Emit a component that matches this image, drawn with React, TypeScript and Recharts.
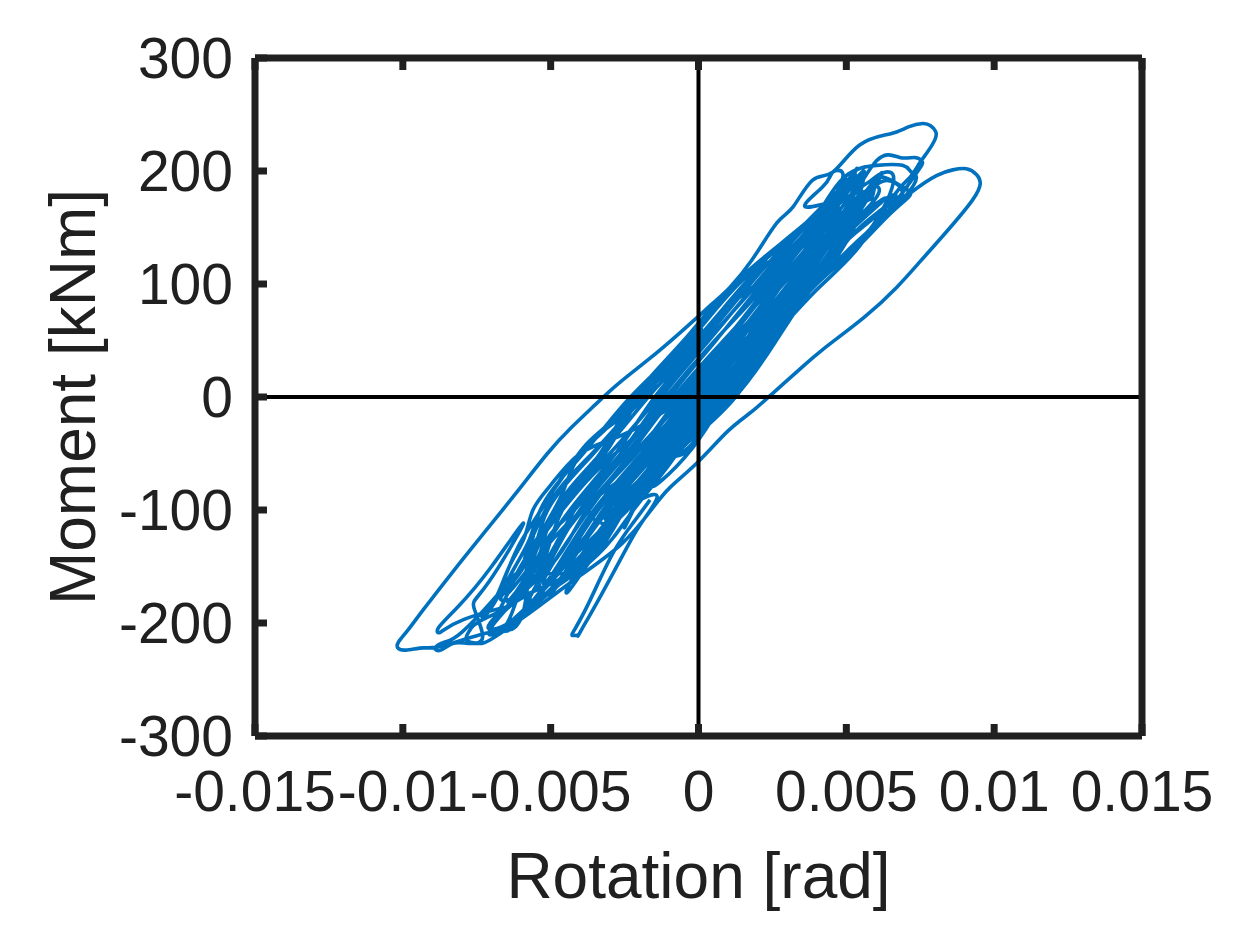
import { LineChart, Line, XAxis, YAxis, ReferenceLine } from 'recharts';

type Pt = [number, number]; // rotation in mrad, moment in kNm

const xTicks = [-0.015, -0.01, -0.005, 0, 0.005, 0.01, 0.015];
const yTicks = [-300, -200, -100, 0, 100, 200, 300];

const hookBranch: Pt[] = [
  [-1.64, -91], [-2.2, -111], [-2.89, -138], [-3.67, -180], [-4.15, -204], [-4.27, -211], [-4.1, -211], [-4.0, -208],
  [-3.33, -177], [-2.52, -138], [-1.97, -113], [-1.4, -89], [-1.9, -90], [-2.65, -106], [-3.2, -128],
  [-3.8, -150], [-4.4, -172], [-4.42, -168], [-3.9, -150], [-3.0, -118],
];

const coreA: Pt[] = [
  [-3.7, -100], [-2.1, -50], [-0.55, 0], [1.0, 50], [2.5, 100], [4.05, 150], [5.1, 178],
  [4.63, 150], [3.25, 100], [1.85, 50], [0.38, 0], [-1.4, -50], [-3.05, -100], [-4.4, -150], [-5.1, -175],
  [-5.4, -150], [-4.35, -100], [-2.8, -50], [-1.48, 0], [0.15, 50], [1.75, 100], [3.48, 150], [5.0, 190],
  [5.3, 192], [4.91, 150], [3.64, 100], [2.29, 50], [0.86, 0], [-1.04, -50], [-2.71, -100], [-4.14, -150], [-6.23, -200],
  [-6.0, -196], [-5.66, -150], [-4.69, -100], [-3.16, -50], [-1.96, 0], [-0.29, 50], [1.36, 100], [3.5, 150], [4.9, 188],
  [4.95, 186], [4.33, 150], [2.86, 100], [1.41, 50], [-0.11, 0], [-1.76, -50], [-3.39, -100], [-4.66, -150], [-5.9, -190],
];

const coreB: Pt[] = [
  [-5.14, -150], [-4.01, -100], [-2.44, -50], [-0.99, 0], [0.59, 50], [2.14, 100], [3.77, 150], [5.21, 190],
  [5.6, 196], [5.04, 150], [3.79, 100], [2.46, 50], [1.04, 0], [-0.9, -50], [-2.58, -100], [-4.04, -150], [-6.31, -200],
  [-6.39, -196], [-5.78, -150], [-4.84, -100], [-3.33, -50], [-2.18, 0], [-0.5, 50], [1.18, 100], [3.45, 150], [4.85, 186],
  [4.9, 190], [4.46, 150], [3.04, 100], [1.61, 50], [0.12, 0], [-1.6, -50], [-3.23, -100], [-4.54, -150], [-6.6, -204],
  [-6.9, -200], [-5.28, -150], [-4.19, -100], [-2.63, -50], [-1.25, 0], [0.35, 50], [1.93, 100], [3.61, 150], [5.1, 186],
  [5.4, 188], [5.19, 150], [3.94, 100], [2.56, 50], [1.15, 0], [-0.81, -50], [-2.5, -100], [-3.98, -150],
];

const coreC: Pt[] = [
  [-4.22, -150], [-2.82, -100], [-1.23, -50], [0.6, 0], [2.05, 50], [3.43, 100], [4.76, 150], [5.9, 190],
  [6.14, 194], [5.11, 150], [3.88, 100], [2.63, 50], [1.23, 0], [-0.76, -50], [-2.45, -100], [-3.94, -150],
  [-4.28, -156], [-5.72, -150], [-4.77, -100], [-3.25, -50], [-2.07, 0], [-0.39, 50], [1.27, 100], [3.5, 150], [5.0, 190],
  [5.3, 199], [4.19, 150], [2.68, 100], [1.2, 50], [-0.33, 0], [-1.93, -50], [-3.54, -100], [-4.78, -150], [-6.2, -196],
  [-7.05, -200], [-5.02, -150], [-3.78, -100], [-2.1, -50], [-0.66, 0], [0.9, 50], [2.41, 100], [3.98, 150], [5.35, 190],
  [5.5, 192], [4.33, 150], [2.77, 100], [1.31, 50], [-0.22, 0], [-1.85, -50], [-3.47, -100], [-4.72, -150],
];

const coreD: Pt[] = [
  [-3.15, -100], [-1.51, -50], [0.23, 0], [1.71, 50], [3.13, 100], [4.53, 150], [5.5, 180],
  [5.54, 176], [4.26, 150], [2.77, 100], [1.31, 50], [-0.22, 0], [-1.93, -50], [-3.01, -100],
  [-2.89, -100], [-1.15, -50], [0.71, 0], [2.16, 50], [3.52, 100], [4.83, 150], [5.8, 184],
  [6.0, 176], [4.5, 138], [3.08, 100], [2.16, 50], [0.86, 0], [-1.04, -50], [-2.71, -100], [-3.98, -150], [-5.8, -186],
  [-5.6, -186], [-3.9, -138], [-2.5, -100], [-0.81, -50], [1.15, 0], [2.56, 50], [3.88, 100], [5.11, 150], [6.14, 190],
];

const coreE: Pt[] = [
  [-6.6, -180], [-5.9, -150], [-5.35, -100], [-3.9, -50], [-2.3, 0], [-0.4, 50], [1.2, 100], [2.2, 118],
  [2.3, 118], [1.55, 100], [-0.1, 50], [-1.9, 0], [-3.55, -50], [-5.1, -100], [-5.7, -150], [-6.4, -180],
  [-6.2, -175], [-5.5, -150], [-4.85, -100], [-3.3, -50], [-1.7, 0], [0.0, 50], [1.7, 100], [3.6, 150], [4.9, 178],
  [3.8, 150], [2.0, 100], [0.3, 50], [-1.35, 0], [-3.0, -50], [-4.6, -100], [-5.3, -150], [-6.0, -172],
  [-5.85, -165], [-5.1, -125], [-4.2, -100], [-2.6, -50], [-1.1, 0], [0.55, 50], [2.3, 100], [3.8, 150], [4.8, 176],
  [4.2, 150], [2.6, 100], [0.85, 50], [-0.8, 0], [-2.45, -50], [-4.0, -100], [-4.9, -140], [-5.5, -168],
  [-4.5, -120], [-2.9, -70], [-1.3, -15], [0.5, 40], [2.5, 100], [4.0, 160],
];

const coreF: Pt[] = [
  [-5.2, -160], [-3.7, -100], [-2.2, -50], [-0.45, 0], [1.1, 50], [2.85, 100], [4.35, 150], [5.8, 180],
  [5.0, 160], [3.35, 100], [1.6, 50], [0.0, 0], [-1.6, -50], [-3.1, -100], [-4.5, -145],
  [-4.2, -140], [-2.7, -100], [-1.3, -50], [0.5, 0], [1.9, 50], [3.65, 100], [4.9, 140], [6.1, 172],
  [6.5, 172], [5.3, 145], [4.15, 115], [3.3, 85], [2.4, 50], [1.25, 0], [-0.35, -40], [-1.0, -60], [-2.2, -100], [-2.9, -125], [-4.0, -153], [-5.5, -180],
  [-5.0, -170], [-3.4, -125], [-2.4, -100], [-1.1, -60], [0.2, -25], [1.3, 5], [2.3, 50], [3.3, 85], [4.4, 115], [5.25, 145], [6.8, 176],
];

const coreG: Pt[] = [
  [6.9, 178], [5.9, 150], [4.6, 118], [3.5, 88], [2.6, 60], [1.45, 15], [0.3, -25], [-0.6, -50],
  [-1.0, -45], [0.9, 10], [2.2, 60], [3.0, 85], [4.1, 115], [5.05, 145], [6.3, 176],
  [4.0, 130], [2.2, 80], [0.7, 40], [-0.9, -5], [-2.6, -45], [-3.8, -75], [-4.9, -110], [-5.6, -135],
  [-5.85, -140], [-4.95, -90], [-3.6, -50], [-2.0, -5], [-0.1, 40], [1.3, 80], [2.7, 120], [4.4, 160],
  [3.2, 125], [1.0, 80], [-0.5, 35], [-2.2, -10], [-3.85, -45], [-4.6, -85], [-5.45, -125], [-6.5, -175],
];

// right-hand edge of the dense band
const coreH: Pt[] = [
  [-4.9, -125], [-3.0, -80], [-1.4, -55], [-0.5, -50], [0.25, -25], [1.25, 0], [1.85, 25], [2.45, 50], [3.05, 75], [3.85, 100], [4.65, 125], [5.45, 150], [6.6, 175],
  [6.3, 175], [5.25, 150], [4.4, 125], [3.6, 100], [2.85, 75], [2.2, 50], [1.6, 25], [1.0, 0], [0.05, -25], [-0.8, -50], [-1.5, -75],
  [-1.3, -75], [-0.2, -45], [0.8, -5], [1.45, 25], [2.0, 50], [2.65, 75], [3.35, 100], [4.15, 125], [5.0, 150], [5.9, 172],
  [5.6, 172], [4.8, 150], [3.9, 125], [3.1, 100], [2.4, 75], [1.8, 50], [1.2, 25], [0.55, -5], [-0.4, -40], [-1.7, -80], [-2.3, -105],
  [-2.5, -115], [-1.9, -85], [-0.6, -40], [0.3, -5], [1.0, 25], [1.6, 50], [2.2, 75], [2.85, 100], [3.65, 125], [4.55, 150], [5.4, 172],
];

// left-hand edge of the dense band, lower half
const coreJ: Pt[] = [
  [4.2, 130], [2.6, 80], [0.8, 30], [-1.0, -10], [-2.7, -35], [-4.0, -50], [-5.0, -78], [-5.6, -100], [-5.9, -125], [-6.4, -150], [-6.9, -180], [-7.3, -192],
  [-7.1, -190], [-6.2, -150], [-5.7, -125], [-5.35, -100], [-4.7, -75], [-3.9, -45], [-3.1, -25], [-2.3, -2], [-1.0, 30], [0.1, 60],
  [-0.9, 28], [-2.1, 0], [-3.2, -30], [-4.2, -55], [-5.2, -95], [-6.05, -130], [-6.7, -170],
];

const upperDetail: Pt[] = [
  [5.0, 196], [6.02, 205], [6.9, 205], [7.2, 199], [7.37, 194], [7.0, 178], [6.2, 158], [5.45, 139], [4.4, 112],
  [5.45, 168], [3.7, 168], [4.2, 186], [4.54, 199], [4.88, 198], [4.5, 172], [3.7, 130], [4.8, 160],
  [6.02, 209], [6.8, 212], [7.3, 212], [7.55, 209], [7.5, 203], [7.1, 188], [6.7, 174], [5.6, 140], [5.0, 126], [5.9, 152],
  [6.6, 192], [6.2, 198], [5.75, 190], [5.45, 182], [5.85, 176], [6.1, 194], [6.9, 186], [7.14, 178], [6.4, 160], [5.2, 128],
  [4.0, 100], [2.2, 50], [0.4, 0], [-1.5, -60], [-3.2, -120],
];

const outerFirst: Pt[] = [
  [-9.3, -222], [-9.9, -224], [-10.17, -222], [-10.15, -217], [-9.85, -207], [-9.3, -188], [-8.35, -156], [-7.37, -124], [-6.2, -86], [-5.11, -50], [-4.3, -27], [-3.5, -7], [-2.7, 12], [-1.7, 33], [-0.62, 57],
  [0.49, 83], [1.06, 97], [1.8, 121], [2.65, 154], [3.19, 168], [3.86, 192], [4.54, 199], [5.45, 223], [6.5, 233],
  [7.1, 239], [7.58, 242], [7.85, 240], [8.02, 235], [8.0, 228], [7.75, 217], [7.48, 207], [7.14, 194], [6.6, 178], [5.4, 132],
  [4, 95], [2.4, 50], [0.6, 0], [-1.3, -55],
];

const outerSecond: Pt[] = [
  [6.3, 162], [7.14, 180], [8.05, 196], [8.6, 201], [9.06, 202], [9.4, 197], [9.53, 189], [9.26, 174], [8.38, 146], [7.5, 120], [6.7, 97],
  [5.62, 71], [4.2, 42], [3.4, 24], [2.52, 3.5], [1.8, -13], [1.0, -30], [0, -57], [-0.96, -80], [-1.6, -100], [-2.6, -130], [-4.0, -158],
];

const lowerDetail: Pt[] = [
  [-5.45, -186], [-6.93, -213], [-7.47, -218], [-7.85, -215], [-7.75, -207], [-7.3, -197], [-6.47, -186], [-7.95, -197], [-8.72, -208],
  [-8.79, -204], [-8.15, -186], [-7.0, -150], [-5.92, -112], [-7.1, -164], [-7.6, -186], [-7.3, -212], [-7.8, -218], [-8.3, -218], [-8.72, -224],
  [-8.9, -222], [-8.6, -217], [-8.0, -208], [-6.7, -172], [-6.2, -160], [-6.95, -200], [-6.5, -188], [-5.7, -178], [-6.3, -204], [-7.0, -208],
  [-8.6, -220],
];

const allPoints: Pt[] = [
  ...hookBranch, ...coreA, ...coreB, ...coreE, ...upperDetail, ...coreC, ...coreF, ...outerSecond, ...lowerDetail,
  ...outerFirst, ...coreD, ...coreG, ...coreH, ...coreJ,
];

const tableData = allPoints.map(([r, m]) => ({ rotation: r / 1000, moment: m }));

const ink = '#202020';
const fontStyle = { fontFamily: '"Liberation Sans", Arial, sans-serif', fontSize: 57, fill: ink };
const labelStyle = { ...fontStyle, fontSize: 64 };
const frameStroke = { stroke: ink, strokeWidth: 7 };

export default function App() {
  return (
    <div style={{ position: 'absolute', left: 0, top: 0, background: '#fff' }}>
      <LineChart
        width={1248}
        height={936}
        data={tableData}
        margin={{ top: 57, right: 105, left: 0, bottom: 0 }}
      >
        <XAxis
          xAxisId="b"
          dataKey="rotation"
          type="number"
          domain={[-0.015, 0.015]}
          ticks={xTicks}
          interval={0}
          height={200}
          allowDataOverflow
          tickSize={-12}
          tickMargin={47}
          axisLine={frameStroke}
          tickLine={frameStroke}
          tickFormatter={(v) => String(v)}
          tick={fontStyle}
          label={{ value: 'Rotation [rad]', position: 'insideBottom', offset: 38, style: labelStyle }}
        />
        <XAxis
          xAxisId="t"
          orientation="top"
          dataKey="rotation"
          type="number"
          domain={[-0.015, 0.015]}
          ticks={xTicks}
          interval={0}
          height={1}
          tickSize={-12}
          axisLine={frameStroke}
          tickLine={frameStroke}
          tick={() => <g />}
        />
        <YAxis
          yAxisId="l"
          type="number"
          domain={[-300, 300]}
          ticks={yTicks}
          interval={0}
          width={255}
          tickSize={-12}
          tickMargin={34}
          axisLine={frameStroke}
          tickLine={frameStroke}
          tick={fontStyle}
          label={{ value: 'Moment [kNm]', angle: -90, position: 'insideLeft', offset: 72, style: { ...labelStyle, textAnchor: 'middle' } }}
        />
        <YAxis
          yAxisId="r"
          orientation="right"
          type="number"
          domain={[-300, 300]}
          ticks={yTicks}
          interval={0}
          width={1}
          tickSize={-12}
          axisLine={frameStroke}
          tickLine={frameStroke}
          tick={() => <g />}
        />
        <Line
          xAxisId="b"
          yAxisId="l"
          dataKey="moment"
          type="natural"
          stroke="#0071BF"
          strokeWidth={3.6}
          strokeLinejoin="round"
          dot={false}
          activeDot={false}
          isAnimationActive={false}
        />
        <ReferenceLine xAxisId="b" yAxisId="l" x={0} stroke="#000" strokeWidth={4} />
        <ReferenceLine xAxisId="b" yAxisId="l" y={0} stroke="#000" strokeWidth={4} />
      </LineChart>
    </div>
  );
}
